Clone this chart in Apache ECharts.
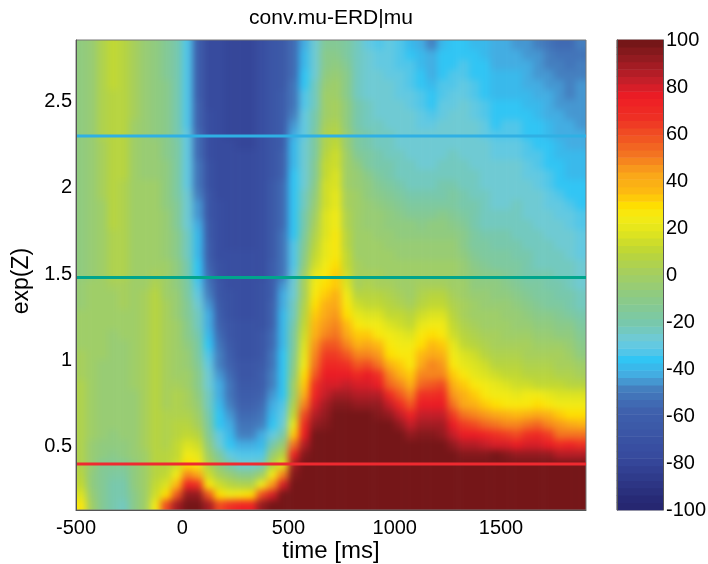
<!DOCTYPE html>
<html><head><meta charset="utf-8">
<style>html,body{margin:0;padding:0;background:#fff}#c{width:708px;height:564px}</style>
<script src="https://cdn.jsdelivr.net/npm/echarts@6/dist/echarts.min.js"></script>
</head><body><div id="c"></div>
<script>
// tick labels and the three marked exp(Z) levels
const xTicks=[-500,0,500,1000,1500];
const yTicks=[0.5,1,1.5,2,2.5];
const lineLevels=[2.3,1.48,0.4];
const lineColors=['#2fb0e4','#00a58c','#ee2a30'];
// each column (50 ms wide): value in each of 47 rows, top to bottom
const col00=[-8,-8,-8,-8,-8,-8,-8,-8,-8,-8,-8,-8,-8,-8,-8,-8,-8,-8,-8,-8,-8,-8,-8,-8,-5,-4,-4,-3,-3,-2,0,2,3,3,4,4,4,4,4,5,5,5,6,8,12,18,26];
const col01=[-4,-4,-4,-4,-4,-4,-4,-4,-4,-4,-4,-4,-4,-4,-4,-4,-4,-4,-4,-4,-4,-4,-4,-4,-3,-3,-3,-3,-3,-3,-3,-3,-3,-3,-2,-2,-2,-3,-3,-3,-4,-5,-6,-7,-7,-5,-2];
const col02=[4,4,4,4,4,4,4,4,4,4,3,3,2,2,1,1,0,0,0,0,-1,-1,-1,-2,-2,-3,-3,-3,-3,-3,-3,-3,-4,-4,-4,-4,-4,-5,-5,-6,-7,-9,-13,-14,-15,-15,-14];
const col03=[11,11,11,11,10,9,9,9,8,8,8,7,7,7,7,7,7,7,7,6,6,6,6,5,2,0,-1,-2,-3,-4,-4,-5,-5,-5,-5,-5,-5,-6,-6,-7,-9,-11,-15,-17,-19,-20,-21];
const col04=[8,8,8,8,8,8,8,8,8,8,7,7,7,7,6,6,6,6,6,5,5,5,5,4,3,2,1,0,-1,-3,-4,-4,-5,-6,-6,-6,-6,-6,-6,-6,-7,-9,-13,-16,-19,-21,-22];
const col05=[1,1,1,1,1,1,1,1,0,0,0,0,0,0,0,0,0,0,0,0,0,0,0,0,-1,-1,-1,-1,-1,-1,-2,-2,-2,-3,-3,-4,-4,-4,-4,-4,-5,-6,-7,-8,-9,-10,-11];
const col06=[-6,-6,-6,-6,-6,-6,-6,-5,-5,-5,-5,-4,-4,-4,-3,-3,-3,-2,-2,-2,-1,-1,-1,-1,0,1,2,3,3,3,3,3,3,3,2,2,2,2,2,1,1,0,-1,-1,-2,-2,-2];
const col07=[-9,-9,-9,-9,-8,-8,-8,-8,-7,-7,-6,-5,-4,-4,-3,-3,-2,-2,-1,-1,0,0,0,1,6,8,9,9,9,9,9,9,9,9,9,8,8,8,8,8,8,9,9,9,10,14,24];
const col08=[-13,-13,-13,-13,-12,-12,-12,-12,-12,-11,-11,-10,-9,-9,-8,-8,-7,-6,-6,-5,-5,-4,-3,-2,-1,0,1,1,1,2,2,2,3,3,3,3,3,4,4,5,6,8,9,11,16,30,62];
const col09=[-20,-20,-20,-20,-20,-19,-19,-19,-19,-19,-18,-18,-17,-17,-16,-16,-15,-14,-13,-12,-11,-10,-9,-8,-7,-6,-5,-4,-3,-2,-2,-1,-1,0,2,4,5,6,8,9,10,12,15,22,35,58,88];
const col10=[-33,-33,-33,-33,-33,-32,-32,-32,-32,-31,-31,-30,-30,-29,-29,-28,-27,-26,-25,-24,-23,-22,-21,-19,-17,-16,-14,-13,-11,-10,-8,-6,-5,-3,-1,1,3,6,9,12,16,22,30,48,72,92,100];
const col11=[-62,-62,-61,-61,-60,-60,-59,-58,-57,-56,-55,-54,-53,-52,-50,-48,-46,-44,-42,-40,-39,-38,-37,-36,-33,-30,-27,-24,-22,-20,-18,-16,-14,-12,-10,-8,-5,-2,2,7,14,20,28,43,68,92,100];
const col12=[-77,-77,-76,-76,-76,-75,-75,-74,-74,-73,-73,-72,-71,-70,-69,-68,-67,-66,-65,-63,-62,-60,-58,-55,-52,-49,-46,-43,-41,-38,-35,-33,-30,-27,-25,-24,-22,-19,-16,-13,-9,-3,4,13,28,58,90];
const col13=[-78,-78,-78,-78,-78,-78,-78,-77,-77,-77,-77,-76,-76,-75,-75,-75,-74,-74,-73,-73,-72,-72,-71,-70,-68,-66,-64,-61,-58,-55,-51,-49,-47,-45,-42,-41,-39,-37,-35,-30,-26,-17,-8,2,14,30,62];
const col14=[-79,-79,-79,-79,-79,-79,-79,-79,-79,-79,-78,-78,-78,-78,-77,-77,-77,-76,-76,-75,-75,-74,-74,-73,-72,-71,-70,-69,-68,-66,-63,-60,-58,-55,-53,-51,-48,-46,-43,-40,-36,-30,-20,-6,8,24,68];
const col15=[-79,-79,-79,-79,-79,-79,-79,-79,-79,-79,-79,-78,-77,-77,-77,-77,-76,-76,-76,-75,-75,-74,-74,-73,-73,-73,-72,-72,-71,-71,-70,-69,-68,-66,-63,-60,-57,-54,-51,-47,-41,-33,-27,-11,5,28,74];
const col16=[-79,-79,-79,-79,-79,-79,-79,-79,-79,-79,-79,-78,-77,-77,-77,-77,-76,-76,-76,-75,-75,-74,-74,-73,-73,-73,-72,-72,-71,-71,-70,-69,-68,-66,-63,-60,-57,-54,-51,-47,-41,-33,-25,-10,6,30,72];
const col17=[-74,-74,-74,-74,-74,-74,-74,-74,-74,-74,-74,-74,-74,-73,-73,-73,-73,-73,-73,-72,-72,-72,-72,-72,-71,-71,-70,-70,-69,-68,-67,-66,-64,-62,-60,-58,-55,-51,-47,-43,-39,-34,-23,-3,25,60,92];
const col18=[-68,-68,-68,-68,-68,-68,-67,-67,-67,-67,-67,-66,-66,-66,-65,-65,-65,-64,-64,-63,-63,-63,-62,-61,-61,-60,-59,-58,-57,-56,-54,-53,-51,-49,-47,-45,-43,-40,-36,-29,-21,-4,9,22,44,80,99];
const col19=[-64,-64,-63,-63,-63,-62,-62,-61,-61,-60,-60,-59,-58,-57,-56,-55,-55,-54,-54,-53,-53,-52,-52,-50,-44,-42,-41,-40,-39,-38,-38,-37,-37,-36,-36,-35,-33,-29,-25,-19,-6,7,20,48,80,98,100];
const col20=[-56,-56,-55,-54,-53,-52,-50,-48,-46,-42,-40,-39,-38,-37,-37,-37,-36,-36,-36,-35,-34,-33,-32,-30,-26,-25,-24,-22,-20,-18,-16,-14,-10,-7,-2,0,6,12,20,32,52,74,88,96,99,100,100];
const col21=[-42,-40,-38,-36,-35,-34,-33,-31,-30,-29,-28,-27,-27,-26,-25,-24,-22,-21,-19,-17,-14,-11,-8,-3,1,3,6,9,12,15,18,21,25,29,34,40,50,60,70,78,86,94,99,100,100,100,100];
const col22=[-28,-27,-26,-25,-24,-23,-22,-21,-20,-18,-17,-16,-15,-13,-11,-9,-5,-2,1,4,7,10,14,20,25,27,29,32,36,40,44,48,52,58,66,72,80,85,93,97,100,100,100,100,100,100,100];
const col23=[-14,-12,-10,-7,-5,-3,-1,0,2,4,6,8,10,12,13,14,15,16,17,18,19,21,23,26,30,33,38,42,46,50,58,64,70,76,80,84,88,92,96,100,100,100,100,100,100,100,100];
const col24=[-13,-11,-8,-5,-3,0,1,3,5,8,11,13,15,16,18,20,21,23,25,26,27,28,30,32,34,38,42,46,49,52,58,65,71,76,81,88,95,100,100,100,100,100,100,100,100,100,100];
const col25=[-17,-16,-14,-12,-11,-10,-9,-8,-7,-6,-5,-3,-2,-1,0,1,3,5,6,8,9,11,12,15,18,22,26,30,35,42,50,57,68,78,84,89,94,100,100,100,100,100,100,100,100,100,100];
const col26=[-24,-24,-23,-23,-22,-22,-21,-20,-19,-18,-16,-13,-9,-6,-4,-3,-2,-1,0,0,0,0,1,2,3,8,13,20,27,33,39,48,58,70,79,86,93,98,100,100,100,100,100,100,100,100,100];
const col27=[-30,-27,-27,-26,-26,-25,-24,-24,-23,-21,-19,-18,-16,-12,-8,-7,-6,-5,-4,-3,-2,-1,0,2,4,8,11,18,25,33,41,48,60,76,81,87,93,98,100,100,100,100,100,100,100,100,100];
const col28=[-32,-31,-30,-28,-27,-26,-26,-25,-24,-23,-22,-20,-19,-17,-14,-10,-7,-6,-5,-4,-3,-2,-1,1,3,7,11,16,22,27,36,44,52,68,78,85,92,96,100,100,100,100,100,100,100,100,100];
const col29=[-31,-31,-30,-29,-27,-26,-26,-26,-25,-24,-23,-22,-20,-19,-16,-13,-11,-8,-7,-6,-5,-3,-1,0,2,4,8,12,18,23,26,30,40,48,56,71,82,91,98,100,100,100,100,100,100,100,100];
const col30=[-34,-33,-32,-31,-31,-30,-28,-27,-26,-26,-25,-24,-23,-22,-20,-16,-14,-11,-8,-7,-5,-4,-3,-1,0,3,6,10,15,20,24,27,33,40,47,57,71,82,92,99,100,100,100,100,100,100,100];
const col31=[-38,-36,-34,-33,-32,-30,-30,-28,-27,-26,-25,-25,-24,-23,-22,-19,-16,-13,-9,-7,-6,-4,-3,-2,-1,0,3,7,12,17,22,26,28,33,40,48,58,72,82,92,98,100,100,100,100,100,100];
const col32=[-41,-40,-39,-37,-36,-34,-33,-31,-30,-28,-27,-26,-25,-24,-22,-20,-18,-15,-11,-8,-6,-5,-3,-2,1,4,8,14,20,26,30,37,43,48,56,66,76,84,90,95,99,100,100,100,100,100,100];
const col33=[-47,-43,-42,-41,-39,-37,-35,-33,-31,-28,-27,-26,-25,-24,-22,-19,-17,-13,-9,-7,-5,-4,-2,0,3,7,11,18,24,30,36,41,47,50,59,68,78,84,90,94,98,100,100,100,100,100,100];
const col34=[-39,-37,-36,-35,-34,-32,-30,-29,-27,-26,-26,-25,-23,-23,-21,-19,-16,-12,-8,-7,-5,-4,-2,0,3,7,11,16,22,27,32,39,45,50,60,70,78,83,88,92,97,100,100,100,100,100,100];
const col35=[-37,-36,-35,-33,-32,-30,-29,-27,-26,-25,-25,-24,-23,-22,-20,-18,-16,-13,-10,-8,-6,-4,-3,-1,0,2,5,8,12,15,20,25,28,33,40,46,52,65,76,84,92,98,100,100,100,100,100];
const col36=[-36,-35,-34,-33,-31,-30,-28,-27,-26,-26,-25,-25,-24,-23,-22,-21,-19,-17,-15,-12,-10,-8,-6,-5,-3,-1,1,3,6,9,12,16,21,26,32,38,43,51,65,78,86,94,100,100,100,100,100];
const col37=[-38,-37,-37,-35,-33,-32,-31,-30,-28,-27,-26,-25,-25,-24,-23,-23,-21,-20,-19,-17,-16,-14,-12,-9,-7,-6,-3,-1,2,5,9,13,17,21,27,32,39,48,60,76,85,95,100,100,100,100,100];
const col38=[-40,-38,-37,-37,-36,-35,-34,-32,-31,-29,-28,-27,-26,-25,-25,-24,-23,-23,-22,-20,-18,-17,-14,-12,-8,-6,-4,-2,0,3,6,9,13,17,22,27,33,45,56,72,84,96,100,100,100,100,100];
const col39=[-42,-41,-41,-40,-39,-38,-37,-36,-35,-33,-31,-30,-28,-27,-26,-25,-25,-24,-22,-21,-19,-18,-16,-10,-8,-7,-5,-3,-1,1,3,6,9,13,19,25,30,43,52,68,81,97,100,100,100,100,100];
const col40=[-43,-42,-41,-40,-39,-38,-37,-36,-34,-33,-31,-30,-27,-27,-26,-25,-25,-23,-22,-21,-20,-18,-17,-15,-10,-7,-6,-4,-2,0,3,5,8,11,16,23,28,38,49,64,79,94,100,100,100,100,100];
const col41=[-44,-43,-42,-40,-39,-38,-37,-35,-34,-32,-31,-30,-28,-27,-26,-25,-24,-23,-23,-22,-20,-19,-18,-17,-15,-12,-9,-6,-4,0,2,5,7,10,15,21,27,36,47,60,77,91,100,100,100,100,100];
const col42=[-45,-44,-43,-42,-41,-39,-38,-37,-36,-35,-34,-32,-31,-30,-28,-26,-25,-25,-24,-23,-23,-21,-20,-19,-17,-15,-12,-8,-5,-2,1,3,6,9,14,23,28,39,51,66,80,92,100,100,100,100,100];
const col43=[-48,-46,-45,-44,-42,-41,-40,-38,-37,-36,-35,-34,-33,-31,-30,-28,-26,-26,-25,-24,-23,-23,-22,-20,-18,-17,-14,-10,-7,-4,0,2,5,7,11,24,29,43,56,70,81,93,100,100,100,100,100];
const col44=[-50,-48,-47,-46,-44,-43,-42,-41,-40,-38,-37,-36,-35,-34,-32,-31,-29,-27,-26,-25,-24,-23,-23,-21,-20,-18,-16,-12,-8,-5,-1,2,4,7,11,21,28,39,49,63,77,92,99,100,100,100,100];
const col45=[-54,-52,-49,-47,-46,-45,-44,-43,-42,-41,-39,-38,-37,-36,-35,-33,-31,-29,-27,-26,-25,-24,-23,-23,-21,-20,-18,-15,-10,-7,-3,1,3,6,10,18,25,32,44,53,71,86,98,100,100,100,100];
const col46=[-54,-53,-50,-48,-47,-47,-46,-45,-43,-42,-41,-40,-39,-38,-37,-35,-34,-31,-30,-28,-26,-25,-24,-24,-23,-21,-19,-16,-12,-9,-5,-1,2,5,9,17,25,30,42,52,72,87,98,100,100,100,100];
const col47=[-48,-50,-48,-47,-46,-46,-46,-45,-44,-42,-41,-40,-39,-38,-37,-36,-35,-34,-32,-31,-30,-29,-28,-26,-25,-24,-22,-20,-18,-15,-12,-8,-3,2,9,17,24,29,40,52,68,85,100,100,100,100,100];
const columns=[col00,col01,col02,col03,col04,col05,col06,col07,col08,col09,col10,col11,col12,col13,col14,col15,col16,col17,col18,col19,col20,col21,col22,col23,col24,col25,col26,col27,col28,col29,col30,col31,col32,col33,col34,col35,col36,col37,col38,col39,col40,col41,col42,col43,col44,col45,col46,col47];
// colour map
const stopValues=[-100,-97,-78,-57,-48,-43,-36,-33,-28,-20,-8,1,10,18,25,30,35,43,52,60,66,76,82,88,94,100];
const stopColors=['#25266f','#262772','#36499d','#3f62ae','#4480c0','#45aae0','#30c5f4','#50c6ea','#6dcbdc','#78c8aa','#90cb80','#a5cf5f','#bdd636','#dfe41f','#f6ec13','#ffdd00','#fdbb10','#faa61a','#f37021','#f04e23','#ee3224','#ee1c25','#c8202a','#a81c24','#8a1a1e','#6e1416'];
const nLevels=64;
function hex(c){return [1,3,5].map(i=>parseInt(c.substr(i,2),16));}
function colourAt(v){let k=0;while(k<stopValues.length-2&&v>stopValues[k+1])k++;
 const t=(v-stopValues[k])/(stopValues[k+1]-stopValues[k]);const a=hex(stopColors[k]),b=hex(stopColors[k+1]);
 return 'rgb('+a.map((x,i)=>Math.round(x+(b[i]-x)*t)).join(',')+')';}
const step=200/nLevels;
const pieces=[];const cbData=[];const cbCats=[];
for(let i=0;i<nLevels;i++){const lo=-100+i*step;pieces.push({min:lo,max:lo+step,color:colourAt(lo+step/2)});cbData.push([0,i,lo+step/2]);cbCats.push(i);}
// The field is drawn one cell wider than the plot on each side (edge cells repeated) so the
// soft contour-like rendering has no fade at the frame; the layer is cropped to the frame below.
const padded=[col00].concat(columns,[col47]);
const nRows=col00.length+2;
const heat=[];padded.forEach((c,x)=>{[c[0]].concat(c,[c[c.length-1]]).forEach((v,y)=>heat.push([x,y,v]));});
const P={l:76,t:40,w:510,h:470};
const cw=P.w/columns.length, ch=P.h/col00.length;
const font='"Liberation Sans",Arial,sans-serif';
const tickLabel={fontFamily:font,fontSize:20,color:'#000'};
const frame={show:true,onZero:false,lineStyle:{color:'#555',width:1}};
const chart=echarts.init(document.getElementById('c'),null,{renderer:'canvas'});
chart.setOption({
 animation:false,
 title:{zlevel:1,text:'conv.mu-ERD|mu',left:326,top:3,textAlign:'center',textStyle:{fontFamily:font,fontSize:21,fontWeight:'normal',color:'#000'}},
 grid:[{left:P.l-cw,top:P.t-ch,width:P.w+2*cw,height:P.h+2*ch,show:false,outerBoundsMode:'none'},
       {zlevel:1,left:P.l,top:P.t,width:P.w,height:P.h,show:true,borderColor:'#777',borderWidth:1,backgroundColor:'transparent',outerBoundsMode:'none'},
       {zlevel:1,left:617,top:40,width:46,height:470,show:true,borderColor:'#777',borderWidth:1,backgroundColor:'transparent',outerBoundsMode:'none'}],
 visualMap:{show:false,type:'piecewise',dimension:2,seriesIndex:[0,4],pieces:pieces},
 xAxis:[
  {type:'category',gridIndex:0,data:padded.map((c,i)=>i),show:false},
  {zlevel:1,type:'value',gridIndex:1,min:-500,max:1900,position:'bottom',z:5,axisLine:frame,axisTick:{show:false},splitLine:{show:false},
   axisLabel:Object.assign({customValues:xTicks,margin:8,formatter:v=>String(v)},tickLabel),name:'time [ms]',nameLocation:'middle',nameGap:29,nameMoveOverlap:false,nameTextStyle:{fontFamily:font,fontSize:24,color:'#000'}},
  {type:'category',gridIndex:2,data:[0],show:false}
 ],
 yAxis:[
  {type:'category',gridIndex:0,inverse:true,data:Array.from({length:nRows},(v,i)=>i),show:false},
  {zlevel:1,type:'value',gridIndex:1,min:0.133,max:2.856,position:'left',z:5,axisLine:frame,axisTick:{show:false},splitLine:{show:false},
   axisLabel:Object.assign({customValues:yTicks,margin:4},tickLabel),name:'exp(Z)',nameLocation:'middle',nameGap:41,nameTextStyle:{fontFamily:font,fontSize:23,color:'#000',padding:[0,12,0,0]}},
  {type:'category',gridIndex:2,data:cbCats,show:false},
  {zlevel:1,type:'value',gridIndex:2,min:-100,max:100,interval:20,position:'right',z:5,axisLine:frame,splitLine:{show:false},
   axisTick:{inside:true,length:5,lineStyle:{color:'#333'}},axisLabel:Object.assign({margin:3},tickLabel)},
  {zlevel:1,type:'value',gridIndex:2,min:-100,max:100,interval:20,position:'left',z:5,axisLine:frame,splitLine:{show:false},
   axisTick:{inside:true,length:5,lineStyle:{color:'#333'}},axisLabel:{show:false}}
 ],
 series:[
  {type:'heatmap',xAxisIndex:0,yAxisIndex:0,data:heat,itemStyle:{borderWidth:0},progressive:0,zlevel:0},
  ...lineLevels.map((v,i)=>({type:'line',xAxisIndex:1,yAxisIndex:1,data:[[-500,v],[1900,v]],symbol:'none',silent:true,zlevel:1,z:3,lineStyle:{color:lineColors[i],width:3}})),
  {type:'heatmap',xAxisIndex:2,yAxisIndex:2,data:cbData,itemStyle:{borderWidth:0},progressive:0,zlevel:1,z:1}
 ]
});
const base=document.querySelector('#c canvas[data-zr-dom-id="zr_0"]')||document.querySelector('#c canvas');
const wrap=document.createElement('div');
wrap.style.cssText='position:absolute;left:0;top:0;width:708px;height:564px;clip-path:inset('+P.t+'px '+(708-P.l-P.w)+'px '+(564-P.t-P.h)+'px '+P.l+'px)';
base.parentNode.insertBefore(wrap,base);wrap.appendChild(base);
base.style.filter='blur(3.5px)';
</script></body></html>
